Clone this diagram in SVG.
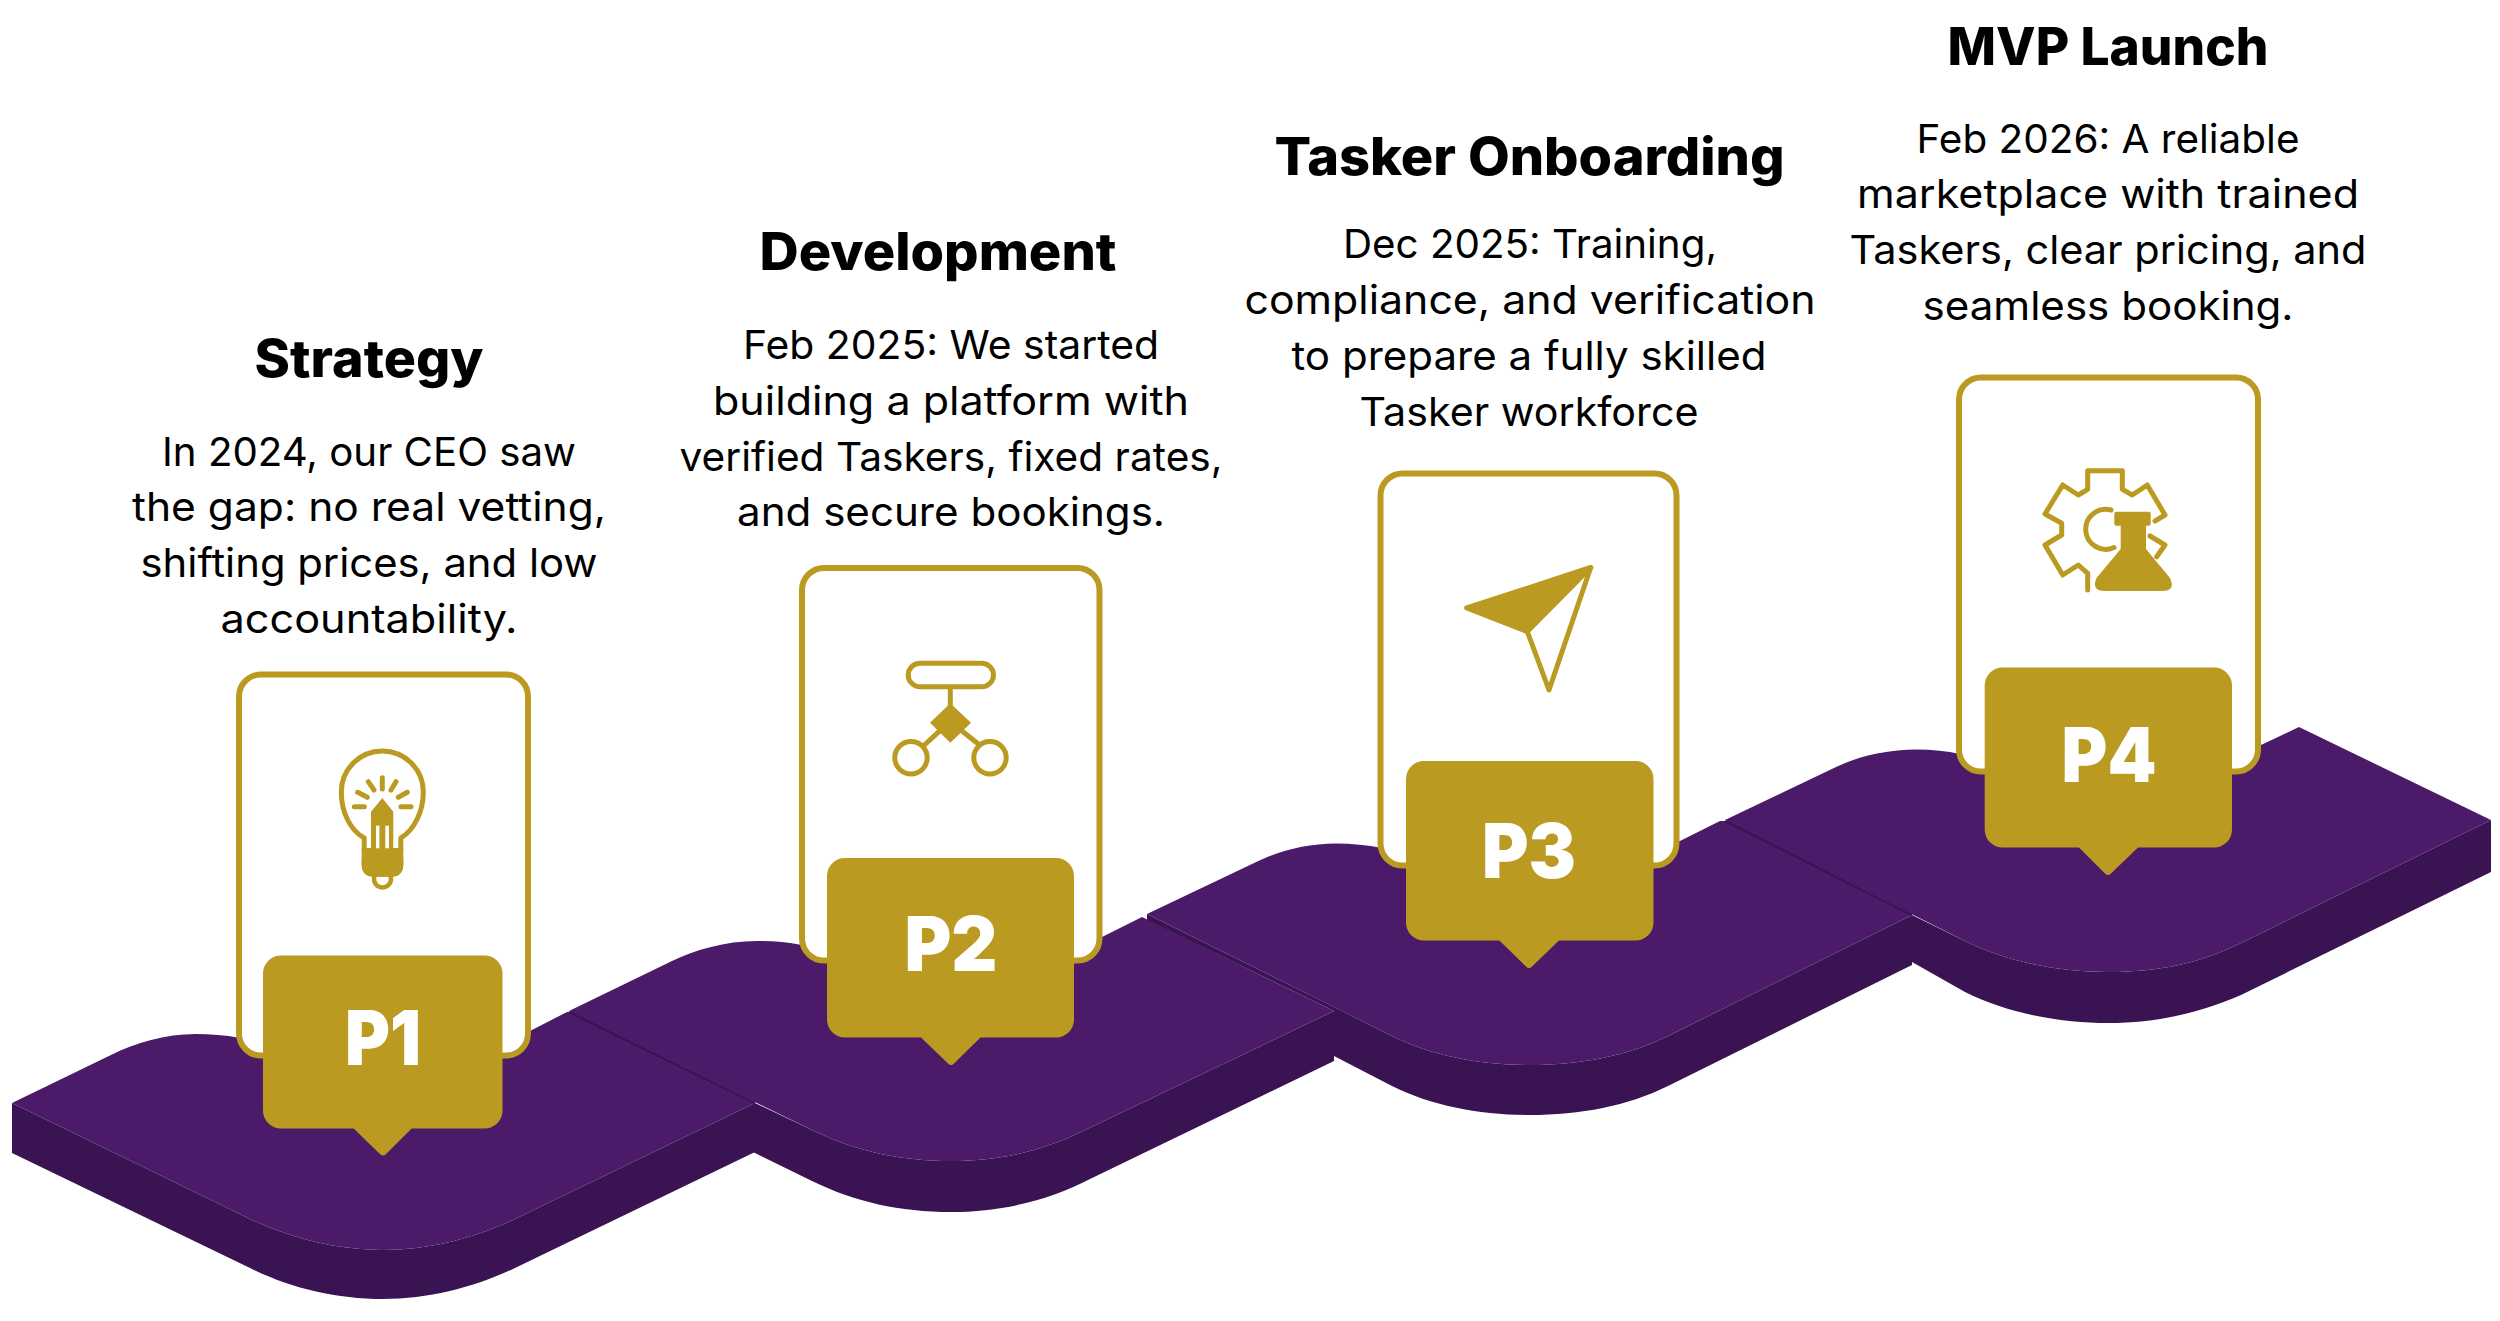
<svg xmlns="http://www.w3.org/2000/svg" width="2500" height="1321" viewBox="0 0 2500 1321">
<style>
.top{fill:#4b1a69}
.side{fill:#3a1353}
.seam{stroke:#3a1353;fill:none}
.card{fill:#fff;stroke:#bb9a22;stroke-width:6}
.badge{fill:#bb9a22}
.ln{fill:none;stroke:#bb9a22;stroke-width:5;stroke-linecap:round;stroke-linejoin:round}
.fl{fill:#bb9a22}
.wh{fill:#fff}
.title{font-family:"Inter","Liberation Sans",sans-serif;font-weight:800;font-size:52px;fill:#000;text-anchor:middle}
.body{font-family:"Inter","Liberation Sans",sans-serif;font-weight:400;font-size:40px;fill:#000;text-anchor:middle}
.pl{font-family:"Inter","Liberation Sans",sans-serif;font-weight:900;font-size:76px;fill:#fff;text-anchor:middle}
</style>
<rect width="2500" height="1321" fill="#fff"/>
<g id="track">
<path class="side" d="M12,1103 V1153 L250,1268 C290,1288 336,1299 383,1299 C430,1299 475,1287 515,1268 L755,1152 V1103 L515,1219 C475,1238 430,1250 383,1250 C336,1250 290,1238 250,1219 Z"/>
<path class="side" d="M755,1103 L812,1130 C855,1151 900,1161 951,1161 C1002,1161 1045,1150 1085,1130 L1334,1011 V1061 L1090,1179 C1050,1200 1002,1212 951,1212 C900,1212 855,1202 812,1181 L753,1152 Z"/>
<path class="side" d="M1334,1007 L1392,1036 C1432,1056 1480,1065 1530,1065 C1580,1065 1628,1056 1668,1036 L1912,915 V965 L1668,1086 C1628,1106 1580,1115 1530,1115 C1480,1115 1432,1106 1392,1086 L1334,1056 Z"/>
<path class="side" d="M1912,915 L1965,941 C2005,961 2056,972 2108,972 C2160,972 2201,963 2241,943 L2491,820 V872 L2241,995 C2201,1012 2160,1023 2108,1023 C2056,1023 2005,1012 1965,992 L1912,962 Z"/>
<path class="top" d="M12,1103 L112,1054.5 C135,1043 165,1034 196,1034 C210,1034 225,1035 240,1038 L530,1031 L567,1012 L572,1012 L755,1103 L515,1219 C475,1238 430,1250 383,1250 C336,1250 290,1238 250,1219 Z"/>
<path class="top" d="M569,1011 L672,961 C695,950 725,941 757,941 C772,941 787,942 802,945 L1102,937 L1142,917 L1334,1011 L1085,1130 C1045,1150 1002,1161 951,1161 C900,1161 855,1151 812,1130 Z"/>
<path class="top" d="M1147,914 L1252,864 C1275,852 1305,843.5 1336,843.5 C1352,843.5 1367,845 1382,848 L1680,841 L1720,821 L1730,821 L1912,915 L1668,1036 C1628,1056 1580,1065 1530,1065 C1480,1065 1432,1056 1392,1036 Z"/>
<path class="top" d="M1725,820 L1835,767.6 C1858,756 1888,749.5 1917,749.5 C1932,749.5 1947,751 1960,754 L2261,745 L2299,727 L2491,820 L2241,943 C2201,963 2160,972 2108,972 C2056,972 2005,961 1965,941 Z"/>
<path class="seam" stroke-width="2.5" d="M569,1012 L755,1103"/>
<path class="side" d="M1147,914 L1334,1007 V1011 L1147,920 Z"/>
<path class="seam" stroke-width="2" d="M1725,821 L1912,915"/>
</g>
<g id="node-p1">
<text class="title" x="369" y="377" textLength="229" lengthAdjust="spacingAndGlyphs">Strategy</text>
<text class="body" x="369" y="465.5" textLength="414" lengthAdjust="spacingAndGlyphs">In 2024, our CEO saw</text>
<text class="body" x="369" y="521.2" textLength="474" lengthAdjust="spacingAndGlyphs">the gap: no real vetting,</text>
<text class="body" x="369" y="577" textLength="457" lengthAdjust="spacingAndGlyphs">shifting prices, and low</text>
<text class="body" x="369" y="632.7" textLength="297" lengthAdjust="spacingAndGlyphs">accountability.</text>
<rect class="card" x="239" y="674.5" width="289" height="381" rx="22"/>
<path class="ln" stroke-width="6" d="M364.2,849 V838 C350,830 341.3,812 341.3,792 A41,41 0 0 1 423.3,792 C423.3,812 414,830 400.8,838 V849"/>
<path class="fl" d="M361.7,848 H403.3 V864 Q403.3,876.7 391,876.7 H374 Q361.7,876.7 361.7,864 Z"/>
<path class="fl" d="M382.3,798 L393.3,811.7 V850 H371 V811.7 Z"/>
<rect class="wh" x="376" y="825.7" width="3.4" height="22.6"/>
<rect class="wh" x="385.3" y="825.7" width="3.6" height="22.6"/>
<circle cx="382.5" cy="879" r="8.5" fill="none" stroke="#bb9a22" stroke-width="4.5"/>
<path class="fl" d="M361.7,858 H403.3 V864 Q403.3,876.7 391,876.7 H374 Q361.7,876.7 361.7,864 Z"/>
<path class="ln" stroke-width="4.5" d="M382.3,777.7 V789 M368.3,781.7 L374,790 M396,781.7 L391,790 M357.7,792.3 L367.3,797.3 M407.3,792.3 L398.3,797.3 M354.3,806.7 H364.3 M401,806.7 H411"/>
<path class="badge" d="M281,955.5 H484.5 A18,18 0 0 1 502.5,973.5 V1110.6 A18,18 0 0 1 484.5,1128.6 H411.7 L386,1154 Q383,1157 380,1154 L353.6,1128.6 H281 A18,18 0 0 1 263,1110.6 V973.5 A18,18 0 0 1 281,955.5 Z"/>
<text class="pl" x="383" y="1065" textLength="76" lengthAdjust="spacingAndGlyphs">P1</text>
</g>
<g id="node-p2">
<text class="title" x="938" y="269.5" textLength="357" lengthAdjust="spacingAndGlyphs">Development</text>
<text class="body" x="951" y="359" textLength="416" lengthAdjust="spacingAndGlyphs">Feb 2025: We started</text>
<text class="body" x="951" y="414.8" textLength="476" lengthAdjust="spacingAndGlyphs">building a platform with</text>
<text class="body" x="951" y="470.6" textLength="543" lengthAdjust="spacingAndGlyphs">verified Taskers, fixed rates,</text>
<text class="body" x="951" y="526.3" textLength="428" lengthAdjust="spacingAndGlyphs">and secure bookings.</text>
<rect class="card" x="802" y="568" width="297.5" height="392.5" rx="22"/>
<rect class="ln" x="908.2" y="663.2" width="85.3" height="23.6" rx="11.8"/>
<path class="ln" d="M950.3,689 V712 M923.3,746 L940,730.7 M978.3,744 L961.7,730.7"/>
<path class="fl" d="M950.3,703.3 L971,722.7 L950.3,742.7 L930,722.7 Z"/>
<circle class="ln" cx="911" cy="757.7" r="16.2"/>
<circle class="ln" cx="990" cy="757.7" r="16.2"/>
<path class="badge" d="M845,858 H1056 A18,18 0 0 1 1074,876 V1019.5 A18,18 0 0 1 1056,1037.5 H980.5 L954,1063.5 Q951,1066.5 948,1063.5 L921,1037.5 H845 A18,18 0 0 1 827,1019.5 V876 A18,18 0 0 1 845,858 Z"/>
<text class="pl" x="951" y="971" textLength="93" lengthAdjust="spacingAndGlyphs">P2</text>
</g>
<g id="node-p3">
<text class="title" x="1529.5" y="174.5" textLength="510" lengthAdjust="spacingAndGlyphs">Tasker Onboarding</text>
<text class="body" x="1530" y="258.3" textLength="374" lengthAdjust="spacingAndGlyphs">Dec 2025: Training,</text>
<text class="body" x="1530" y="314" textLength="571" lengthAdjust="spacingAndGlyphs">compliance, and verification</text>
<text class="body" x="1529" y="369.8" textLength="475" lengthAdjust="spacingAndGlyphs">to prepare a fully skilled</text>
<text class="body" x="1529" y="425.5" textLength="339" lengthAdjust="spacingAndGlyphs">Tasker workforce</text>
<rect class="card" x="1380.5" y="473.5" width="296" height="392" rx="22"/>
<path class="fl ln" d="M1590.7,567.5 L1466.7,608 L1527.3,631.5 Z"/>
<path class="ln" d="M1527.3,631.5 L1549,690 L1590.7,567.5"/>
<path class="badge" d="M1424,761 H1635.5 A18,18 0 0 1 1653.5,779 V922.5 A18,18 0 0 1 1635.5,940.5 H1559 L1532,966.5 Q1529,969.5 1526,966.5 L1499.4,940.5 H1424 A18,18 0 0 1 1406,922.5 V779 A18,18 0 0 1 1424,761 Z"/>
<text class="pl" x="1529" y="877.5" textLength="94" lengthAdjust="spacingAndGlyphs">P3</text>
</g>
<g id="node-p4">
<text class="title" x="2108" y="65.3" textLength="321" lengthAdjust="spacingAndGlyphs">MVP Launch</text>
<text class="body" x="2108" y="152.6" textLength="383" lengthAdjust="spacingAndGlyphs">Feb 2026: A reliable</text>
<text class="body" x="2108" y="208.2" textLength="502" lengthAdjust="spacingAndGlyphs">marketplace with trained</text>
<text class="body" x="2108" y="263.9" textLength="517" lengthAdjust="spacingAndGlyphs">Taskers, clear pricing, and</text>
<text class="body" x="2108" y="319.6" textLength="371" lengthAdjust="spacingAndGlyphs">seamless booking.</text>
<rect class="card" x="1959" y="377.5" width="299" height="394" rx="22"/>
<path class="ln" d="M2087.7,590 V573.3 L2078.3,565 L2062.7,575 L2045,545 L2061.7,535 V523.3 L2045,514 L2062.7,485 L2078.3,495 L2087.7,489.3 V470.7 H2122.3 V489.3 L2132.3,495 L2147.3,485 L2165,515 L2155,521"/>
<path class="ln" d="M2150,536 L2165,545 L2156.7,556.7"/>
<path class="ln" d="M2111,510 A20,20 0 1 0 2114,547.5"/>
<path class="fl" d="M2116.3,511.7 H2148.7 Q2150.7,511.7 2150.7,513.7 V523.7 Q2150.7,525.7 2148.7,525.7 H2146 V549 L2170,578 Q2176,591 2162,591 H2105 Q2091,591 2096.5,578 L2120.7,549 V525.7 H2116.3 Q2114.3,525.7 2114.3,523.7 V513.7 Q2114.3,511.7 2116.3,511.7 Z"/>
<path class="badge" d="M2002.7,667.5 H2214 A18,18 0 0 1 2232,685.5 V829.5 A18,18 0 0 1 2214,847.5 H2138 L2111,873.5 Q2108,876.5 2105,873.5 L2079,847.5 H2002.7 A18,18 0 0 1 1984.7,829.5 V685.5 A18,18 0 0 1 2002.7,667.5 Z"/>
<text class="pl" x="2109" y="781.5" textLength="95" lengthAdjust="spacingAndGlyphs">P4</text>
</g>
</svg>
